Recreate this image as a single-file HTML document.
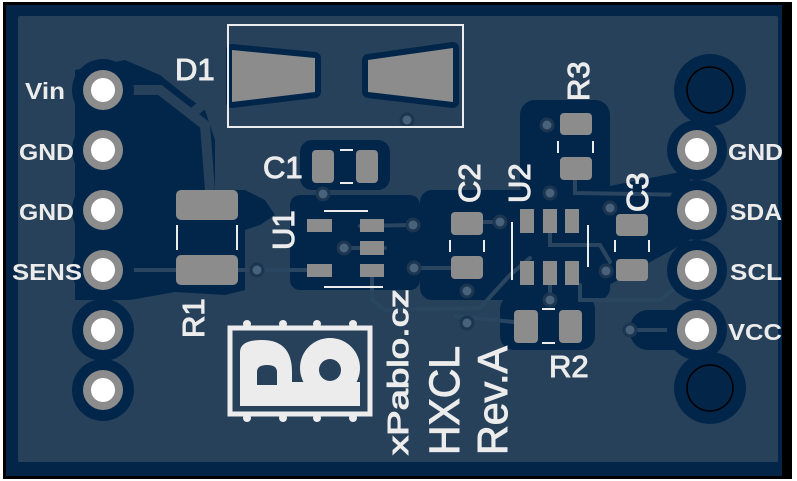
<!DOCTYPE html>
<html><head><meta charset="utf-8"><style>
html,body{margin:0;padding:0;background:#fff}
svg{display:block}
text{font-family:"Liberation Sans",sans-serif;fill:#ececec}
.s{stroke:#ececec;stroke-width:1}
</style></head><body>
<svg width="797" height="481" viewBox="0 0 797 481" xmlns="http://www.w3.org/2000/svg">
<rect x="0" y="0" width="797" height="481" fill="#fff"/>
<rect x="3" y="2" width="789" height="477" fill="#000"/>
<rect x="6" y="5" width="776" height="471" fill="#022548"/>
<rect x="18" y="16" width="760" height="446" rx="2" fill="#27415a"/>
<g fill="#02264a">
<path d="M75,70 L125,60 L160,75 L185,95 L205,110 L215,140 L215,190 L245,190 L265,200 L275,215 L260,225 L245,230 L245,290 L225,295 L175,292 L130,300 L75,300 Z"/>
<rect x="290" y="195" width="130" height="95" rx="10"/>
<rect x="420" y="190" width="190" height="110" rx="12"/>
<rect x="300" y="140" width="90" height="50" rx="12"/>
<rect x="520" y="100" width="90" height="100" rx="15"/>
<rect x="500" y="295" width="95" height="55" rx="14"/>
<path d="M590,190 L690,170 L690,240 L600,290 Z"/>
<rect x="630" y="310" width="70" height="40" rx="18"/>
</g>
<g stroke="#27415a" stroke-width="10" fill="none">
<path d="M103,90 L160,90 L205,125 L210,190"/>
<path d="M190,115 L215,95"/>
<path d="M103,150 L103,210"/>
</g>
<g stroke="#29455f" stroke-width="4" fill="none" stroke-linecap="round">
<path d="M103,270 L176,270"/>
<path d="M238,270 L307,270"/>
<path d="M360,226 L412,225"/>
<path d="M385,248 L340,248"/>
<path d="M418,268 L451,268"/>
<path d="M483,222 L500,222"/>
<path d="M372,277 L372,300 L385,310 L480,308 L510,275 L530,258"/>
<path d="M455,316 L514,322"/>
<path d="M550,232 L550,245 L600,245 L610,262"/>
<path d="M575,180 L575,193 L690,195 L697,210"/>
<path d="M580,285 L580,300 L660,300 L697,270"/>
<path d="M630,330 L697,330"/>
<path d="M550,284 L550,300"/>
</g>
<g fill="#47627a" stroke="#1c3550" stroke-width="3">
<circle cx="407" cy="120" r="6"/><circle cx="547" cy="125" r="6"/>
<circle cx="323" cy="194" r="6"/><circle cx="257" cy="270" r="6"/>
<circle cx="413" cy="225" r="6"/><circle cx="344" cy="248" r="6"/>
<circle cx="414" cy="268" r="6"/><circle cx="467" cy="291" r="6"/>
<circle cx="467" cy="323" r="6"/><circle cx="500" cy="222" r="6"/>
<circle cx="550" cy="193" r="6"/><circle cx="550" cy="300" r="6"/>
<circle cx="610" cy="208" r="6"/><circle cx="606" cy="271" r="6"/>
<circle cx="630" cy="330" r="6"/>
</g>
<g fill="#02264a">
<circle cx="103" cy="90" r="31"/><circle cx="103" cy="150" r="31"/><circle cx="103" cy="210" r="31"/>
<circle cx="103" cy="270" r="31"/><circle cx="103" cy="330" r="31"/><circle cx="103" cy="390" r="31"/>
<circle cx="697" cy="150" r="30"/><circle cx="697" cy="210" r="30"/><circle cx="697" cy="270" r="30"/><circle cx="697" cy="330" r="30"/>
<circle cx="710" cy="90" r="36"/><circle cx="710" cy="388" r="36"/>
</g>
<circle cx="710" cy="90" r="23" fill="#022548" stroke="#000" stroke-width="1.5"/>
<circle cx="710" cy="388" r="23" fill="#022548" stroke="#000" stroke-width="1.5"/>
<g fill="#8c8c8c">
<circle cx="103" cy="90" r="20"/><circle cx="103" cy="150" r="20"/><circle cx="103" cy="210" r="20"/>
<circle cx="103" cy="270" r="20"/><circle cx="103" cy="330" r="20"/><circle cx="103" cy="390" r="20"/>
<circle cx="697" cy="150" r="20"/><circle cx="697" cy="210" r="20"/><circle cx="697" cy="270" r="20"/><circle cx="697" cy="330" r="20"/>
</g>
<g fill="#fff">
<circle cx="103" cy="90" r="12"/><circle cx="103" cy="150" r="12"/><circle cx="103" cy="210" r="12"/>
<circle cx="697" cy="150" r="12"/><circle cx="697" cy="210" r="12"/><circle cx="697" cy="270" r="12"/><circle cx="697" cy="330" r="12"/>
<circle cx="103" cy="270" r="12"/><circle cx="103" cy="330" r="12"/><circle cx="103" cy="390" r="12"/>
</g>
<path d="M232,50 L315,58 L315,92 L232,102 Z" fill="#8c8c8c" stroke="#02264a" stroke-width="12" stroke-linejoin="round"/>
<path d="M368,60 L453,48 L453,102 L368,92 Z" fill="#8c8c8c" stroke="#02264a" stroke-width="12" stroke-linejoin="round"/>
<path d="M232,50 L315,58 L315,92 L232,102 Z" fill="#8c8c8c"/>
<path d="M368,60 L453,48 L453,102 L368,92 Z" fill="#8c8c8c"/>
<rect x="228" y="25" width="235" height="102" fill="none" stroke="#ececec" stroke-width="2"/>
<g fill="#8c8c8c">
<rect x="312" y="150" width="22" height="33" rx="4"/><rect x="356" y="150" width="22" height="33" rx="4"/>
<rect x="176" y="190" width="62" height="30" rx="5"/><rect x="176" y="255" width="62" height="30" rx="5"/>
<rect x="307" y="219" width="25" height="13"/><rect x="307" y="264" width="25" height="13"/>
<rect x="360" y="219" width="24" height="13"/><rect x="360" y="241" width="24" height="14"/><rect x="360" y="264" width="24" height="13"/>
<rect x="451" y="212" width="32" height="23" rx="4"/><rect x="451" y="256" width="32" height="23" rx="4"/>
<rect x="520" y="209" width="14" height="24"/><rect x="543" y="209" width="14" height="24"/><rect x="565" y="209" width="14" height="24"/>
<rect x="520" y="261" width="14" height="24"/><rect x="543" y="261" width="14" height="24"/><rect x="565" y="261" width="14" height="24"/>
<rect x="560" y="113" width="32" height="22" rx="4"/><rect x="560" y="157" width="32" height="23" rx="4"/>
<rect x="616" y="214" width="32" height="22" rx="4"/><rect x="616" y="259" width="32" height="22" rx="4"/>
<rect x="514" y="310" width="24" height="33" rx="4"/><rect x="559" y="310" width="23" height="33" rx="4"/>
</g>
<g stroke="#ececec" stroke-width="2" fill="none">
<path d="M340,150 h13 M340,183 h13"/>
<path d="M177,225 v25 M237,225 v25"/>
<path d="M324,211 h44 M324,287 h59"/>
<path d="M450,240 v12 M484,240 v12"/>
<path d="M512,222 v58 M588,225 v42"/>
<path d="M558,141 v12 M593,141 v12"/>
<path d="M615,240 v12 M649,240 v12"/>
<path d="M542,309 h13 M542,343 h13"/>
</g>
<rect x="230" y="328" width="140" height="86" fill="none" stroke="#ececec" stroke-width="5"/>
<path d="M240,406 L240,352 Q240,340 262,340 Q292,340 292,372 L292,406 Z" fill="#ececec"/>
<path d="M257,385 L257,372 Q257,365 267,365 Q277,365 277,372 L277,385 Z" fill="#27415a"/>
<circle cx="330" cy="368" r="30" fill="#ececec"/>
<rect x="292" y="382" width="68" height="24" fill="#ececec"/>
<circle cx="330" cy="370" r="11" fill="#27415a"/>
<g fill="#ececec"><circle cx="247" cy="324" r="4"/><circle cx="283" cy="324" r="4"/><circle cx="317" cy="324" r="4"/><circle cx="353" cy="324" r="4"/>
<circle cx="247" cy="418" r="4"/><circle cx="283" cy="418" r="4"/><circle cx="317" cy="418" r="4"/><circle cx="353" cy="418" r="4"/></g>
<g font-size="23" font-weight="bold">
<text x="25" y="99" textLength="40" lengthAdjust="spacingAndGlyphs">Vin</text>
<text x="19" y="160" textLength="55" lengthAdjust="spacingAndGlyphs">GND</text>
<text x="19" y="220" textLength="55" lengthAdjust="spacingAndGlyphs">GND</text>
<text x="12" y="280" textLength="70" lengthAdjust="spacingAndGlyphs">SENS</text>
<text x="728" y="160" textLength="55" lengthAdjust="spacingAndGlyphs">GND</text>
<text x="730" y="220" textLength="52" lengthAdjust="spacingAndGlyphs">SDA</text>
<text x="730" y="280" textLength="52" lengthAdjust="spacingAndGlyphs">SCL</text>
<text x="728" y="340" textLength="54" lengthAdjust="spacingAndGlyphs">VCC</text>
</g>
<g font-size="31" class="s">
<text class="s" x="175" y="80">D1</text>
<text class="s" x="263" y="178">C1</text>
<text class="s" x="549" y="377">R2</text>
<text class="s" transform="translate(204,338) rotate(-90)">R1</text>
<text class="s" transform="translate(294,250) rotate(-90)">U1</text>
<text class="s" transform="translate(480,203) rotate(-90)">C2</text>
<text class="s" transform="translate(530,203) rotate(-90)">U2</text>
<text class="s" transform="translate(589,101) rotate(-90)">R3</text>
<text class="s" transform="translate(648,212) rotate(-90)">C3</text>
<text class="s" transform="translate(408,455) rotate(-90)" font-size="29" textLength="166" lengthAdjust="spacingAndGlyphs">xPablo.cz</text>
<text class="s" transform="translate(459,455) rotate(-90)" font-size="43" textLength="109" lengthAdjust="spacingAndGlyphs">HXCL</text>
<text class="s" transform="translate(507,455) rotate(-90)" font-size="42" textLength="109" lengthAdjust="spacingAndGlyphs">Rev.A</text>
</g>
</svg>
</body></html>
